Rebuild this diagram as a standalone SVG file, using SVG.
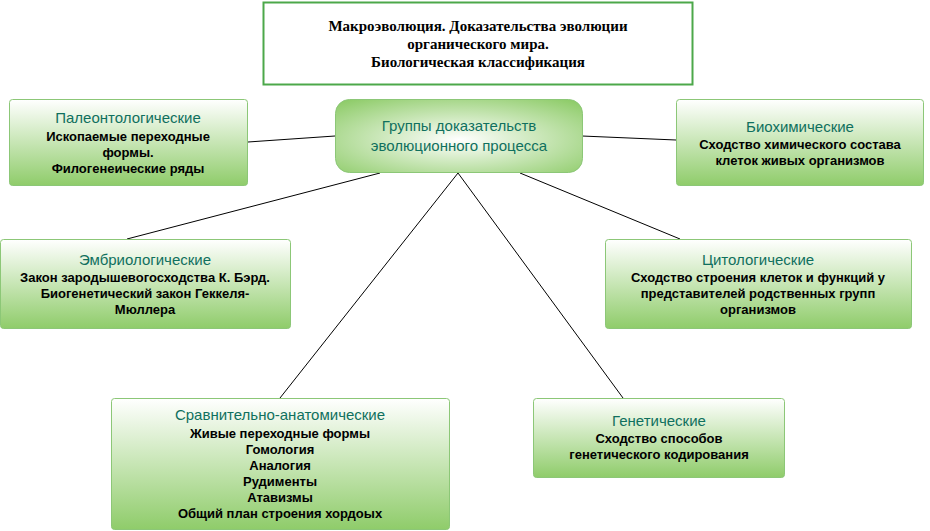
<svg xmlns="http://www.w3.org/2000/svg" width="930" height="531" viewBox="0 0 930 531">
<defs>
<linearGradient id="g" x1="0" y1="0" x2="0" y2="1"><stop offset="0" stop-color="#ffffff"/><stop offset="1" stop-color="#8fcc6a"/></linearGradient>
<radialGradient id="r" cx="0.5" cy="0.55" r="0.7"><stop offset="0" stop-color="#ffffff"/><stop offset="1" stop-color="#8fcc6a"/></radialGradient>
</defs>
<style>
.b{fill:url(#g);stroke:#8cc777;stroke-width:1}
.h{font-family:"Liberation Sans",Arial,sans-serif;font-size:15px;fill:#10705e;text-anchor:middle}
.t{font-family:"Liberation Sans",Arial,sans-serif;font-size:13px;font-weight:bold;fill:#000;text-anchor:middle}
.c line{stroke:#000;stroke-width:1}
</style>
<rect width="930" height="531" fill="#fff"/>
<g id="title"><rect x="263.5" y="2.5" width="429" height="82" fill="#fff" stroke="#4ca84a" stroke-width="2"/>
<text font-family="Liberation Serif,serif" font-weight="bold" font-size="15" text-anchor="middle"><tspan x="478" y="31">Макроэволюция. Доказательства эволюции</tspan><tspan x="478" y="49">органического мира.</tspan><tspan x="478" y="67">Биологическая классификация</tspan></text></g>
<g class="c">
<line x1="248" y1="142" x2="335" y2="136"/>
<line x1="582" y1="136" x2="676" y2="140"/>
<line x1="380" y1="173" x2="127" y2="239"/>
<line x1="458" y1="173" x2="280" y2="398"/>
<line x1="458" y1="173" x2="623" y2="398"/>
<line x1="520" y1="173" x2="680" y2="239"/>
</g>
<g id="center"><rect x="335.5" y="99.5" width="247" height="73" rx="14" fill="url(#r)" stroke="#8cc777"/>
<text class="h"><tspan x="459" y="131">Группы доказательств</tspan><tspan x="459" y="151">эволюционного процесса</tspan></text></g>
<g id="paleo"><rect class="b" x="9.5" y="99.5" width="238" height="86" rx="3"/>
<text class="h" x="128" y="123">Палеонтологические</text>
<text class="t"><tspan x="128" y="141">Ископаемые переходные</tspan><tspan x="128" y="157">формы.</tspan><tspan x="128" y="173">Филогенеические ряды</tspan></text></g>
<g id="bio"><rect class="b" x="676.5" y="99.5" width="247" height="86" rx="3"/>
<text class="h" x="800" y="132">Биохимические</text>
<text class="t"><tspan x="800" y="149">Сходство химического состава</tspan><tspan x="800" y="165">клеток живых организмов</tspan></text></g>
<g id="embryo"><rect class="b" x="0.5" y="239.5" width="290" height="89" rx="3"/>
<text class="h" x="145" y="265">Эмбриологические</text>
<text class="t"><tspan x="145" y="282">Закон зародышевогосходства К. Бэрд.</tspan><tspan x="145" y="298">Биогенетический закон Геккеля-</tspan><tspan x="145" y="314">Мюллера</tspan></text></g>
<g id="cyto"><rect class="b" x="605.5" y="239.5" width="306" height="89" rx="3"/>
<text class="h" x="758" y="265">Цитологические</text>
<text class="t"><tspan x="758" y="282">Сходство строения клеток и функций у</tspan><tspan x="758" y="298">представителей родственных групп</tspan><tspan x="758" y="314">организмов</tspan></text></g>
<g id="sravn"><rect class="b" x="111.5" y="398.5" width="338" height="131" rx="3"/>
<text class="h" x="280" y="420">Сравнительно-анатомические</text>
<text class="t"><tspan x="280" y="438">Живые переходные формы</tspan><tspan x="280" y="454">Гомология</tspan><tspan x="280" y="470">Аналогия</tspan><tspan x="280" y="486">Рудименты</tspan><tspan x="280" y="502">Атавизмы</tspan><tspan x="280" y="518">Общий план строения хордоых</tspan></text></g>
<g id="genet"><rect class="b" x="533.5" y="398.5" width="251" height="79" rx="3"/>
<text class="h" x="659" y="426">Генетические</text>
<text class="t"><tspan x="659" y="443">Сходство способов</tspan><tspan x="659" y="459">генетического кодирования</tspan></text></g>
</svg>
